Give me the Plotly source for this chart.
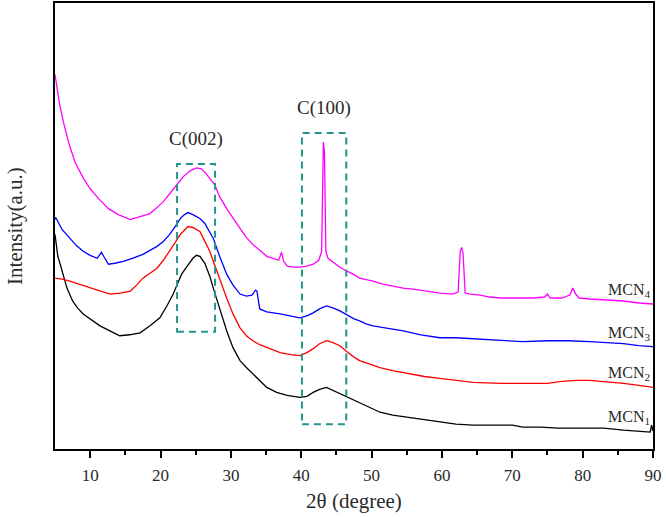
import plotly.graph_objects as go

# ---- data (2θ in degrees, intensity in arbitrary units) ----
mcn4_x = [5.0, 5.24, 5.6, 6.2, 7.0, 7.84, 9.0, 10, 11.2, 12.6, 14, 15.7, 17, 18.5, 19.5, 20.4, 21.3, 22.3, 23.2,
          24.2, 25.1, 25.8, 26.5, 27.7, 28.4, 29.4, 30.3, 31.3, 32.2, 33.1, 34.1, 35.1, 36.0, 36.8, 37.2, 37.5,
          38.0, 39.0, 39.8, 40.8, 41.7, 42.5, 42.9, 43.15, 43.3, 43.5, 43.8, 44.5, 45.5, 46.5, 47.4, 48.3, 50.2,
          51.6, 53, 54.5, 55.9, 57.8, 59.7, 61.5, 62.3, 62.6, 62.8, 63.0, 63.3, 64.0, 65.4, 66.8, 68.3, 70, 71.5,
          73, 74.6, 75, 75.4, 77, 78.2, 78.6, 79.0, 79.5, 81, 83, 85.8, 88, 90]
mcn4_y = [377, 366, 349, 329, 307, 289, 273, 262, 252, 242, 236, 231, 234, 237, 243, 249, 257, 266, 274,
          280, 283, 282, 277, 266, 254, 242, 232, 222, 213, 206, 200, 194, 192, 190, 198, 189,
          184, 183, 183, 184, 186, 190, 199, 309, 299, 199, 192, 188, 183, 179, 176, 172, 169,
          166, 164, 162, 161, 159, 157, 156, 158, 199, 203, 197, 157, 156, 155, 153, 152, 152, 152,
          152, 153, 156, 152, 152, 155, 162, 156, 152, 151, 150, 149, 147, 146]

mcn3_x = [5, 5.1, 6, 7.1, 8, 9, 10, 11, 11.6, 12.0, 12.6, 13.5, 14.7, 16, 17.5, 18.5, 19.5, 20.4, 21.3, 22.1,
          22.8, 23.4, 23.9, 24.6, 25.6, 26.3, 27.5, 28.4, 29.4, 30.3, 31.3, 32.2, 33.0, 33.5, 33.7, 34.1, 35.1,
          37, 38.5, 39.8, 40.8, 41.7, 42.6, 43.6, 44.5, 45.5, 46.5, 47.5, 48.3, 49.2, 50.2, 52, 54.5, 57, 59.7,
          62, 64.4, 66.3, 68.3, 71.5, 75, 78, 81, 85.8, 88, 90]
mcn3_y = [231, 233, 221, 212, 205, 199, 195, 192, 198, 193, 186, 187, 189, 192, 196, 200, 204, 209, 216, 224,
          232, 236, 238, 236, 232, 227, 212, 194, 176, 165, 156, 154, 155, 160, 159, 141, 138,
          136, 134, 132, 134, 137, 141, 144, 142, 139, 135, 131, 129, 126, 124, 122, 119, 115, 112,
          112, 111, 110, 109, 108, 109, 109, 108, 106, 104, 103]

mcn2_x = [5, 6, 7.1, 8.5, 10, 11.4, 12.8, 14.3, 15.7, 16.6, 17.5, 18.5, 19.5, 20.4, 21.3, 22.1, 22.8, 23.4,
          23.9, 24.6, 25.6, 26.3, 27.0, 27.5, 28.4, 29.4, 30.3, 31.3, 32.2, 33.1, 34.1, 35.1, 37, 38.5, 39.8,
          40.8, 41.7, 42.6, 43.6, 44.5, 45.5, 46.5, 47.4, 48.3, 50.2, 51.2, 53, 55, 57.5, 59.7, 62, 64.4, 68.3,
          71.5, 75, 77, 79.2, 81, 83, 85.8, 88, 90]
mcn2_y = [172, 171, 169, 166, 162, 159, 156, 157, 159, 165, 172, 177, 182, 190, 199, 208, 216, 221,
          224, 223, 219, 209, 199, 189, 171, 152, 136, 122, 114, 109, 105, 102, 97, 95, 94,
          97, 101, 106, 109, 107, 104, 98, 93, 89, 84, 82, 79, 76, 73, 71, 69, 67, 66,
          66, 66, 68, 69, 69, 68, 66, 64, 62]

mcn1_x = [5, 5.15, 5.4, 5.7, 6.2, 6.7, 7.5, 8.2, 9, 10, 11.4, 12.8, 14.2, 15.6, 17.1, 18.5, 19.9, 20.9, 21.8,
          22.4, 23, 23.8, 24.6, 25.1, 25.6, 26.3, 27.0, 27.5, 28.4, 29.4, 30.3, 31.3, 32.2, 33.1, 34.1, 35.1,
          36.5, 38, 39.8, 40.8, 41.7, 42.6, 43.6, 44.5, 45.5, 46.5, 47.4, 48.3, 49.5, 51.2, 53, 55, 57.5, 59.7,
          62, 64.4, 68.3, 70, 71.5, 74, 76.5, 79.2, 81, 83, 85.8, 88, 89.6, 89.8, 90]
mcn1_y = [216, 209, 194, 187, 174, 162, 149, 142, 136, 131, 124, 119, 114, 115, 117, 124, 132, 144, 156,
          166, 176, 184, 192, 195, 194, 187, 174, 162, 142, 119, 102, 89, 82, 76, 69, 62,
          57, 54, 52, 53, 57, 60, 62, 59, 56, 52, 49, 46, 42, 37, 34, 32, 29, 27,
          25, 24, 24, 24, 22, 22, 21, 21, 21, 21, 19, 18, 17, 24, 18]

series_names = ["MCN<sub>1</sub>", "MCN<sub>2</sub>", "MCN<sub>3</sub>", "MCN<sub>4</sub>"]
series_x = [mcn1_x, mcn2_x, mcn3_x, mcn4_x]
series_y = [mcn1_y, mcn2_y, mcn3_y, mcn4_y]
series_colors = ["#000000", "#ff0000", "#0000ff", "#ff00ff"]

x_ticks = [10, 20, 30, 40, 50, 60, 70, 80, 90]

# peak regions (dashed boxes): x0, x1, y0, y1, label
peak_boxes = [(22.35, 27.75, 118, 287, "C(002)"), (40.1, 46.4, 25, 318, "C(100)")]

FONT = "Liberation Serif, Times New Roman, serif"
TXT = "#2a2a2a"

fig = go.Figure()
for name, xs, ys, col in zip(series_names, series_x, series_y, series_colors):
    fig.add_trace(go.Scatter(x=xs, y=ys, mode="lines", name=name,
                             line=dict(color=col, width=1.3), showlegend=False))

# dashed boxes and their labels
for x0, x1, y0, y1, lab in peak_boxes:
    fig.add_shape(type="rect", xref="x", yref="y", x0=x0, x1=x1, y0=y0, y1=y1,
                  line=dict(color="#22968e", width=2, dash="7px,5px"))
    fig.add_annotation(x=(x0 + x1) / 2, y=y1, xref="x", yref="y", text=lab, showarrow=False,
                       yanchor="bottom", yshift=12, font=dict(family=FONT, size=19, color=TXT))

# series labels on the right
label_y = [series_y[i][-1] for i in range(4)]
for name, ly in zip(series_names, label_y):
    fig.add_annotation(x=89.8, y=ly, xref="x", yref="y", text=name, showarrow=False,
                       xanchor="right", yanchor="bottom", yshift=2,
                       font=dict(family=FONT, size=16, color=TXT))

# y-axis title
fig.add_annotation(x=-0.067, y=0.5, xref="paper", yref="paper", text="Intensity(a.u.)",
                   textangle=-90, showarrow=False, xanchor="center", yanchor="middle",
                   font=dict(family=FONT, size=21, color=TXT))

fig.update_xaxes(range=[5, 90], tickvals=x_ticks, ticks="outside", ticklen=7, tickwidth=1.5,
                 tickcolor="black", showline=True, linecolor="black", linewidth=1.5, mirror=True,
                 showgrid=False, zeroline=False, ticklabelstandoff=3,
                 tickfont=dict(family=FONT, size=17, color=TXT),
                 minor=dict(tickvals=[15, 25, 35, 45, 55, 65, 75, 85], ticks="outside", ticklen=4,
                            tickwidth=1.5, tickcolor="black"),
                 title=dict(text="2θ (degree)", font=dict(family=FONT, size=21, color=TXT), standoff=9))
fig.update_yaxes(range=[0, 449], showticklabels=False, ticks="", showline=True, linecolor="black",
                 linewidth=1.5, mirror=True, showgrid=False, zeroline=False)

fig.update_layout(width=666, height=517, margin=dict(l=55, r=13, t=1, b=68),
                  plot_bgcolor="white", paper_bgcolor="white")

fig.write_html("out.html", config={"displayModeBar": False},
               post_script="document.body.style.margin='0px';document.body.style.overflow='hidden';")
